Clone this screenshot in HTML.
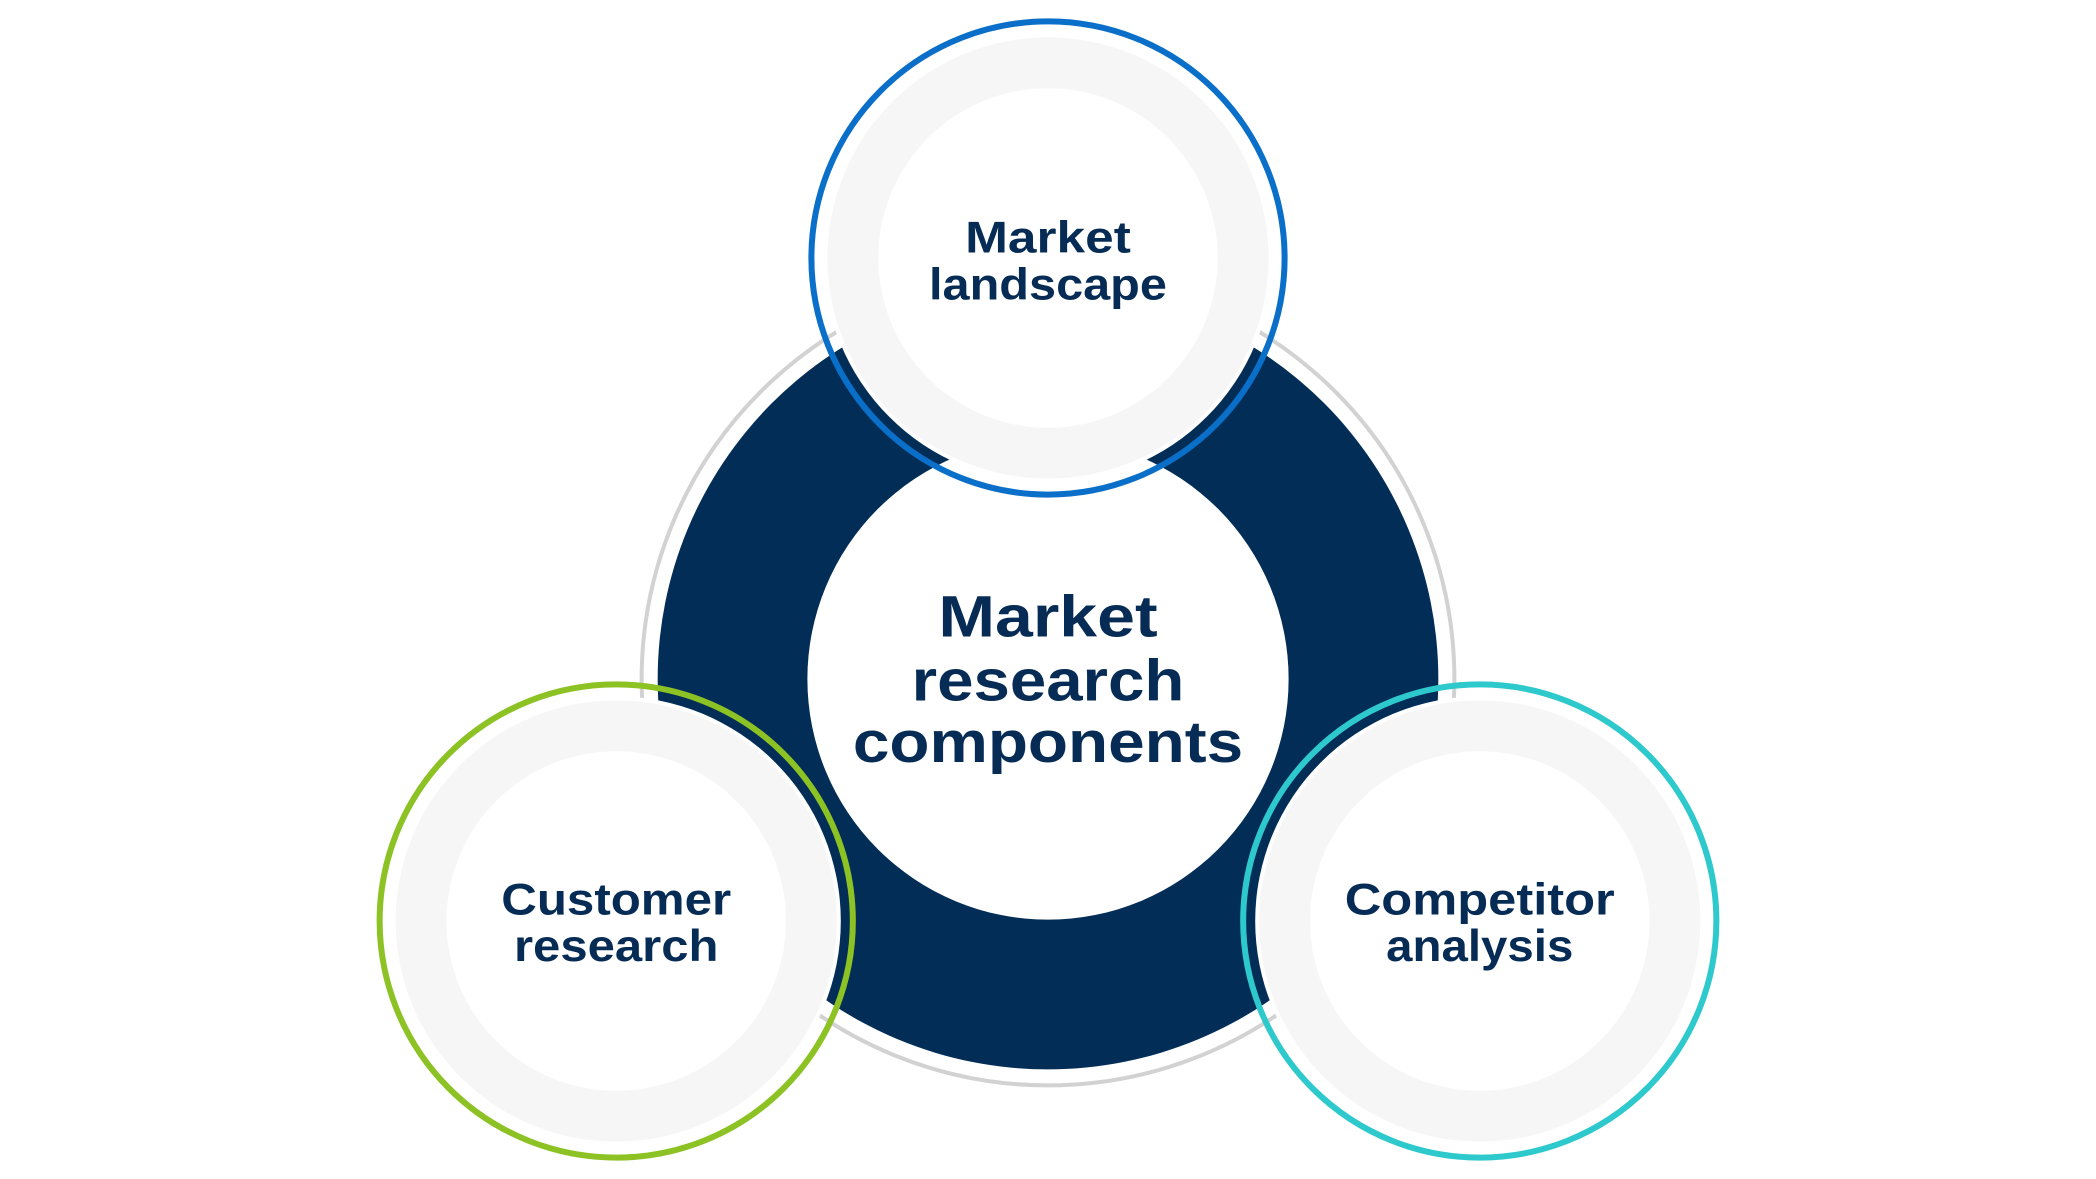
<!DOCTYPE html>
<html><head><meta charset="utf-8"><style>html,body{margin:0;padding:0;background:#fff}svg{display:block}</style></head>
<body>
<svg width="2096" height="1179" viewBox="0 0 1568 882" xmlns="http://www.w3.org/2000/svg">
<rect width="1568" height="882" fill="#fff"/>
<circle cx="784" cy="508" r="304" fill="none" stroke="#d2d2d2" stroke-width="3"/>
<circle cx="784" cy="508" r="292" fill="#022d57"/>
<circle cx="784" cy="508" r="180" fill="#fff"/>
<g>
<circle cx="784" cy="193" r="168" fill="#fff"/>
<circle cx="784" cy="193" r="165" fill="#f6f6f6"/>
<circle cx="784" cy="193" r="127" fill="#fff"/>
<circle cx="784" cy="193" r="177" fill="none" stroke="#0a6fc8" stroke-width="4.5"/>
</g>
<g>
<circle cx="461" cy="689" r="168" fill="#fff"/>
<circle cx="461" cy="689" r="165" fill="#f6f6f6"/>
<circle cx="461" cy="689" r="127" fill="#fff"/>
<circle cx="461" cy="689" r="177" fill="none" stroke="#8dc224" stroke-width="4.5"/>
</g>
<g>
<circle cx="1107" cy="689" r="168" fill="#fff"/>
<circle cx="1107" cy="689" r="165" fill="#f6f6f6"/>
<circle cx="1107" cy="689" r="127" fill="#fff"/>
<circle cx="1107" cy="689" r="177" fill="none" stroke="#2ec9cc" stroke-width="4.5"/>
</g>
<g font-family="'Liberation Sans', sans-serif" font-weight="bold" fill="#062c56" text-anchor="middle">
<text x="784" y="476" font-size="44" textLength="164" lengthAdjust="spacingAndGlyphs">Market</text>
<text x="784" y="524" font-size="44" textLength="204" lengthAdjust="spacingAndGlyphs">research</text>
<text x="784" y="570" font-size="44" textLength="292" lengthAdjust="spacingAndGlyphs">components</text>
<text x="784" y="189" font-size="33" textLength="124" lengthAdjust="spacingAndGlyphs">Market</text>
<text x="784" y="224" font-size="33" textLength="178" lengthAdjust="spacingAndGlyphs">landscape</text>
<text x="461" y="684" font-size="33" textLength="172" lengthAdjust="spacingAndGlyphs">Customer</text>
<text x="461" y="719" font-size="33" textLength="153" lengthAdjust="spacingAndGlyphs">research</text>
<text x="1107" y="684" font-size="33" textLength="202" lengthAdjust="spacingAndGlyphs">Competitor</text>
<text x="1107" y="719" font-size="33" textLength="140" lengthAdjust="spacingAndGlyphs">analysis</text>
</g>
</svg>
</body></html>
